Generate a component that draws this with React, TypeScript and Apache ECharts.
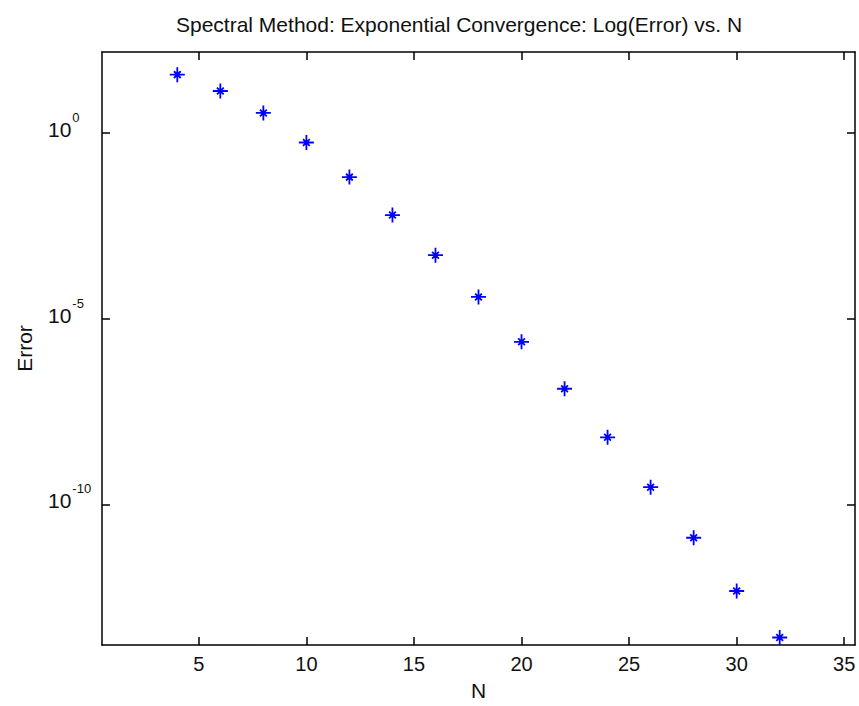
import React, { useEffect, useRef } from "react";
import * as echarts from "echarts";

const titleText = "Spectral Method: Exponential Convergence: Log(Error) vs. N";
const xName = "N";
const yName = "Error";
const nValues = [4, 6, 8, 10, 12, 14, 16, 18, 20, 22, 24, 26, 28, 30, 32];
const errorValues = [
  37.8, 13.7, 3.52, 0.562, 0.0656, 6.25e-3, 5.19e-4, 3.9e-5, 2.41e-6, 1.31e-7,
  6.44e-9, 2.92e-10, 1.27e-11, 4.67e-13, 2.61e-14,
];
const xTicks = [5, 10, 15, 20, 25, 30, 35];
const yTickExponents = [-10, -5, 0];
const xMin = 0.5;
const xMax = 35.5;
const yMinExp = -13.785;
const yMaxExp = 2.187;

const FONT = "'Liberation Sans', Arial, Helvetica, sans-serif";
const STAR = "path://M10,0L10,20M0,10L20,10M5.5,5.5L14.5,14.5M5.5,14.5L14.5,5.5";

export default function App() {
  const ref = useRef<HTMLDivElement>(null);
  useEffect(() => {
    if (!ref.current) return;
    const chart = echarts.init(ref.current, undefined, { renderer: "svg" });
    const axisLine = { show: true, onZero: false, lineStyle: { color: "#000", width: 1.5 } };
    const tickStyle = { color: "#000", width: 1.5 };
    chart.setOption({
      animation: false,
      backgroundColor: "#fff",
      title: {
        text: titleText,
        left: 176,
        top: 14,
        padding: 0,
        textStyle: { fontFamily: FONT, fontSize: 21, fontWeight: "normal", color: "#111" },
      },
      grid: { left: 102, right: 4, top: 52, bottom: 60, containLabel: false },
      xAxis: [
        {
          type: "value",
          position: "bottom",
          min: xMin,
          max: xMax,
          name: xName,
          nameLocation: "middle",
          nameGap: 35,
          nameTextStyle: { fontFamily: FONT, fontSize: 21, color: "#111" },
          axisLine,
          axisTick: { show: true, inside: true, length: 8, lineStyle: tickStyle, customValues: xTicks },
          axisLabel: {
            show: true,
            customValues: xTicks,
            margin: 9,
            fontFamily: FONT,
            fontSize: 20,
            color: "#111",
          },
          splitLine: { show: false },
        },
        {
          type: "value",
          position: "top",
          min: xMin,
          max: xMax,
          axisLine,
          axisTick: { show: true, inside: true, length: 8, lineStyle: tickStyle, customValues: xTicks },
          axisLabel: { show: false },
          splitLine: { show: false },
        },
      ],
      yAxis: [
        {
          type: "value",
          position: "left",
          min: yMinExp,
          max: yMaxExp,
          name: yName,
          nameLocation: "middle",
          nameGap: 67,
          nameTextStyle: { fontFamily: FONT, fontSize: 21, color: "#111" },
          axisLine,
          axisTick: {
            show: true,
            inside: true,
            length: 8,
            lineStyle: tickStyle,
            customValues: yTickExponents,
          },
          axisLabel: {
            show: true,
            customValues: yTickExponents,
            align: "left",
            margin: 54,
            padding: [0, 0, 8, 0],
            formatter: (v: number) => `{b|10}{s|${Math.round(v)}}`,
            rich: {
              b: { fontFamily: FONT, fontSize: 21, lineHeight: 22, color: "#111", verticalAlign: "bottom" },
              s: {
                fontFamily: FONT,
                fontSize: 13,
                lineHeight: 14,
                color: "#111",
                verticalAlign: "bottom",
                padding: [0, 0, 16, 1],
              },
            },
          },
          splitLine: { show: false },
        },
        {
          type: "value",
          position: "right",
          min: yMinExp,
          max: yMaxExp,
          axisLine,
          axisTick: {
            show: true,
            inside: true,
            length: 8,
            lineStyle: tickStyle,
            customValues: yTickExponents,
          },
          axisLabel: { show: false },
          splitLine: { show: false },
        },
      ],
      series: [
        {
          type: "scatter",
          xAxisIndex: 0,
          yAxisIndex: 0,
          data: nValues.map((n, i) => [n, Math.log10(errorValues[i])]),
          symbol: STAR,
          symbolSize: 15,
          itemStyle: { color: "rgba(0,0,0,0)", borderColor: "#0000ff", borderWidth: 1.8, opacity: 1 },
          emphasis: { disabled: true },
        },
      ],
    });
    return () => chart.dispose();
  }, []);
  return (
    <div
      ref={ref}
      style={{ position: "fixed", left: 0, top: 0, width: 859, height: 706, background: "#fff" }}
    />
  );
}
